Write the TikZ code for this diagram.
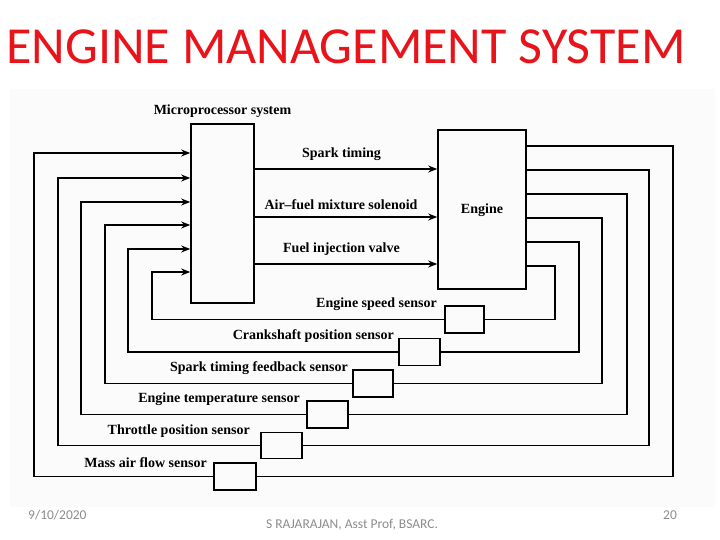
\documentclass[tikz,border=0pt]{standalone}
\usepackage{fontspec}
\setmainfont{Liberation Serif}
\newfontfamily\titlefont{Carlito}
\usetikzlibrary{arrows.meta}
\definecolor{titlered}{HTML}{E8141B}
\definecolor{footgray}{HTML}{8C8C8C}
\tikzset{
  blk/.style={draw,line width=1.6pt,inner sep=0pt},
  wire/.style={line width=1.6pt},
  arr/.style={line width=1.6pt,-{Stealth[length=9pt,width=7pt]}},
  lbl/.style={font=\bfseries\fontsize{14}{16}\selectfont,inner sep=0pt},
  foot/.style={font=\titlefont\fontsize{13.5}{15}\selectfont,text=footgray,inner sep=0pt},
}
\begin{document}
\begin{tikzpicture}[x=1pt,y=-1pt]
\useasboundingbox (0,0) rectangle (720,540);
\fill[white] (0,0) rectangle (720,540);
\fill[black!1.5] (10,89) rectangle (715,507);
% title
\node[font=\titlefont\fontsize{52}{60}\selectfont,text=titlered,inner sep=0pt,anchor=base] (title) at (346,64) {ENGINE MANAGEMENT SYSTEM};
% main blocks
\node[blk,minimum width=63pt,minimum height=179pt] (mp) at (222.5,213.5) {};
\node[lbl,anchor=base] (mplbl) at (222.5,115) {Microprocessor system};
\node[blk,minimum width=88pt,minimum height=159pt] (eng) at (482,209.5) {};
\node[lbl] (englbl) at (482,210) {Engine};
% outputs
\draw[arr] (mp.east |- 0,169) -- (eng.west |- 0,169);
\draw[arr] (mp.east |- 0,217) -- (eng.west |- 0,217);
\draw[arr] (mp.east |- 0,264) -- (eng.west |- 0,264);
\node[lbl] (o1) at (341.5,154) {Spark timing};
\node[lbl] (o2) at (341,205) {Air--fuel mixture solenoid};
\node[lbl] (o3) at (341.5,249) {Fuel injection valve};
% sensors
\node[blk,minimum width=39pt,minimum height=27pt] (s1) at (464.5,319.5) {};
\node[blk,minimum width=41pt,minimum height=27pt] (s2) at (419.5,352) {};
\node[blk,minimum width=40pt,minimum height=27pt] (s3) at (373,383.5) {};
\node[blk,minimum width=41pt,minimum height=27pt] (s4) at (327.5,414.5) {};
\node[blk,minimum width=41pt,minimum height=26pt] (s5) at (281.5,445.5) {};
\node[blk,minimum width=42pt,minimum height=27pt] (s6) at (235,476.5) {};
\node[lbl,anchor=east] (l1) at (437,304) {Engine speed sensor};
\node[lbl,anchor=east] (l2) at (394,336) {Crankshaft position sensor};
\node[lbl,anchor=east] (l3) at (348,368) {Spark timing feedback sensor};
\node[lbl,anchor=east] (l4) at (300,399) {Engine temperature sensor};
\node[lbl,anchor=east] (l5) at (250,431) {Throttle position sensor};
\node[lbl,anchor=east] (l6) at (207,463) {Mass air flow sensor};
% feedback loops
\draw[wire] (eng.east |- 0,266) -| (555,319.5) -- (s1.east);
\draw[arr] (s1.west) -| (152,272) -- (mp.west |- 0,272);
\draw[wire] (eng.east |- 0,242) -| (579,352) -- (s2.east);
\draw[arr] (s2.west) -| (128,249) -- (mp.west |- 0,249);
\draw[wire] (eng.east |- 0,218) -| (602,383.5) -- (s3.east);
\draw[arr] (s3.west) -| (105,225) -- (mp.west |- 0,225);
\draw[wire] (eng.east |- 0,194) -| (627,414.5) -- (s4.east);
\draw[arr] (s4.west) -| (81,202) -- (mp.west |- 0,202);
\draw[wire] (eng.east |- 0,170) -| (649,445.5) -- (s5.east);
\draw[arr] (s5.west) -| (58,178) -- (mp.west |- 0,178);
\draw[wire] (eng.east |- 0,146) -| (673,476.5) -- (s6.east);
\draw[arr] (s6.west) -| (34,153) -- (mp.west |- 0,153);
% footer
\node[foot,anchor=west] (date) at (28,515) {9/10/2020};
\node[foot] (author) at (352,525) {S RAJARAJAN, Asst Prof, BSARC.};
\node[foot] (page) at (670,515) {20};
\end{tikzpicture}
\end{document}
